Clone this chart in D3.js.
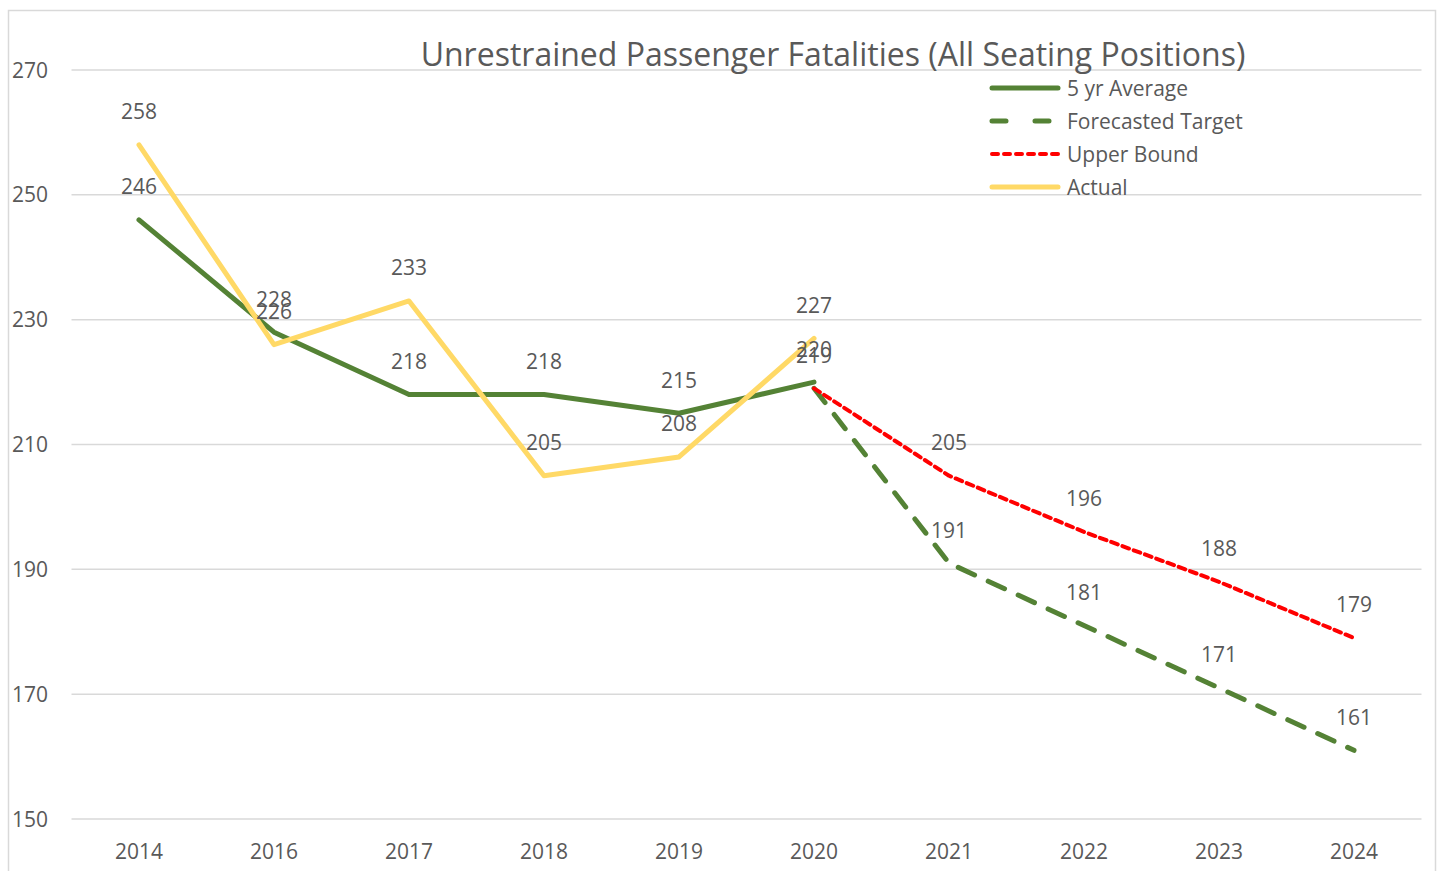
<!DOCTYPE html>
<html>
<head>
<meta charset="utf-8">
<script src="https://cdn.jsdelivr.net/npm/d3@7"></script>
<style>
    body { margin: 0; background: #fff; }
    text { font-family: "Open Sans", sans-serif; fill: #595959; }
</style>
</head>
<body>
<div id="chart"></div>
<script>
    "use strict";

    // chart values
    const years = ["2014", "2016", "2017", "2018", "2019", "2020", "2021", "2022", "2023", "2024"];
    const avgYears = ["2014", "2016", "2017", "2018", "2019", "2020"];
    const avgValues = [246, 228, 218, 218, 215, 220];
    const forecastYears = ["2020", "2021", "2022", "2023", "2024"];
    const forecastValues = [219, 191, 181, 171, 161];
    const upperValues = [219, 205, 196, 188, 179];
    const actualValues = [258, 226, 233, 205, 208, 227];
    const yTicks = [150, 170, 190, 210, 230, 250, 270];

    const series = [
        { name: "5 yr Average", x: avgYears, y: avgValues, color: "#548235", dash: null, width: 5 },
        { name: "Forecasted Target", x: forecastYears, y: forecastValues, color: "#548235", dash: "18,15", width: 5 },
        { name: "Upper Bound", x: forecastYears, y: upperValues, color: "#ff0000", dash: "7,5", width: 4, noFirstLabel: true },
        { name: "Actual", x: avgYears, y: actualValues, color: "#ffd966", dash: null, width: 5 }
    ];

    const width = 1438, height = 871;
    const svg = d3.select("#chart").append("svg").attr("width", width).attr("height", height);

    svg.append("rect")
        .attr("x", 8.5).attr("y", 10.5)
        .attr("width", 1427).attr("height", 870)
        .attr("fill", "none").attr("stroke", "#d9d9d9").attr("stroke-width", 1.5);

    let x = d3.scalePoint().domain(years).range([71.5, 1421.5]).padding(0.5);
    let y = d3.scaleLinear().domain([150, 270]).range([819, 70]);

    // gridlines + y labels
    svg.append("g").selectAll("line").data(yTicks).enter().append("line")
        .attr("x1", 71.5).attr("x2", 1421.5)
        .attr("y1", (d) => y(d)).attr("y2", (d) => y(d))
        .attr("stroke", "#d9d9d9").attr("stroke-width", 1.5);

    svg.append("g").selectAll("text").data(yTicks).enter().append("text")
        .attr("x", 12).attr("y", (d) => y(d) + 7.5)
        .attr("font-size", 21)
        .text((d) => d);

    svg.append("g").selectAll("text").data(years).enter().append("text")
        .attr("x", (d) => x(d)).attr("y", 859)
        .attr("text-anchor", "middle").attr("font-size", 21)
        .text((d) => d);

    svg.append("text")
        .attr("x", 833).attr("y", 66)
        .attr("text-anchor", "middle").attr("font-size", 32)
        .text("Unrestrained Passenger Fatalities (All Seating Positions)");

    let line = d3.line().x((d) => x(d[0])).y((d) => y(d[1]));

    series.forEach((s) => {
        let pts = s.x.map((yr, i) => [yr, s.y[i]]);
        svg.append("path")
            .attr("d", line(pts))
            .attr("fill", "none")
            .attr("stroke", s.color)
            .attr("stroke-width", s.width)
            .attr("stroke-linecap", "round")
            .attr("stroke-linejoin", "round")
            .attr("stroke-dasharray", s.dash);
    });

    // data labels on top
    series.forEach((s) => {
        let pts = s.x.map((yr, i) => [yr, s.y[i]]);
        if (s.noFirstLabel) pts = pts.slice(1);
        svg.append("g").selectAll("text").data(pts).enter().append("text")
            .attr("x", (d) => x(d[0]))
            .attr("y", (d) => y(d[1]) - 25.5)
            .attr("text-anchor", "middle").attr("font-size", 21)
            .text((d) => d[1]);
    });

    // legend
    let legend = svg.append("g");
    series.forEach((s, i) => {
        let ly = 88 + i * 33;
        legend.append("line")
            .attr("x1", 992).attr("x2", 1058)
            .attr("y1", ly).attr("y2", ly)
            .attr("stroke", s.color).attr("stroke-width", s.width)
            .attr("stroke-linecap", "round")
            .attr("stroke-dasharray", s.dash ? (i === 1 ? "14,29" : "6,6") : null);
        legend.append("text")
            .attr("x", 1067).attr("y", ly + 7.5)
            .attr("font-size", 21)
            .text(s.name);
    });
</script>
</body>
</html>
